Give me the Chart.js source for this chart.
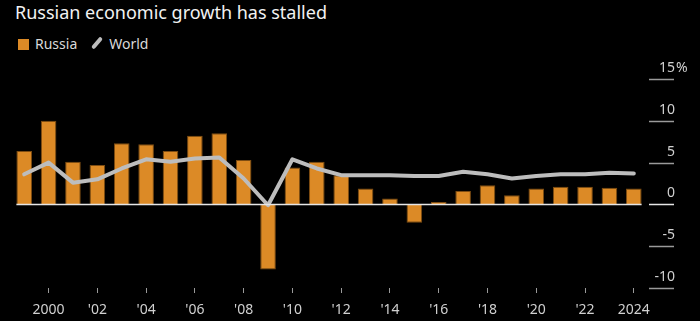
<!DOCTYPE html>
<html>
<head>
<meta charset="utf-8">
<script src="https://cdn.jsdelivr.net/npm/chart.js@4/dist/chart.umd.min.js"></script>
<style>
    body { margin: 0; background: #000; }
    #wrap { position: relative; width: 700px; height: 321px; background: #000; font-family: "Noto Sans", sans-serif; }
    #title { position: absolute; left: 15px; top: 0px; color: #f2f2f2; font-size: 18px; white-space: nowrap; }
    #legend { position: absolute; left: 18px; top: 34px; color: #d9d9d9; font-size: 14px; white-space: nowrap; }
    #legend .sq { display: inline-block; width: 11px; height: 11px; background: #dc8a26; vertical-align: -1px; margin-right: 6px; }
    #legend .ln { display: inline-block; width: 14px; height: 4px; background: #bdbdbd; transform: rotate(-50deg); vertical-align: 4px; margin: 0 5px 0 13px; border-radius: 2px; }
    canvas { position: absolute; left: 0; top: 0; }
</style>
</head>
<body>
<div id="wrap">
    <div id="title">Russian economic growth has stalled</div>
    <div id="legend"><span class="sq"></span>Russia<span class="ln"></span>World</div>
    <canvas id="chart" width="700" height="321"></canvas>
</div>
<script>
// Chart data
const years = [1999, 2000, 2001, 2002, 2003, 2004, 2005, 2006, 2007, 2008, 2009, 2010, 2011, 2012,
               2013, 2014, 2015, 2016, 2017, 2018, 2019, 2020, 2021, 2022, 2023, 2024];
const russia = [6.4, 10.0, 5.1, 4.7, 7.3, 7.2, 6.4, 8.2, 8.5, 5.3, -7.8, 4.4, 5.1, 3.5,
                1.9, 0.7, -2.2, 0.3, 1.6, 2.3, 1.1, 1.9, 2.1, 2.1, 2.0, 1.9];
const world = [3.6, 5.0, 2.6, 3.0, 4.3, 5.4, 5.1, 5.5, 5.6, 3.1, -0.1, 5.4, 4.3, 3.5,
               3.5, 3.5, 3.4, 3.4, 3.9, 3.6, 3.1, 3.4, 3.6, 3.6, 3.8, 3.7];
const yTicks = [-10, -5, 0, 5, 10, 15];

function yearLabel(year) {
    if (year % 2 !== 0) return null;
    if (year === 2000 || year === 2024) return String(year);
    return "'" + String(year).slice(2);
}

// Right-side value axis: short segments with labels above them, plus zero line
const rightAxis = {
    id: 'rightAxis',
    afterDatasetsDraw(chart) {
        const ctx = chart.ctx;
        const y = chart.scales.y;
        ctx.save();
        ctx.font = '14px "Noto Sans", sans-serif';
        ctx.textAlign = 'right';
        ctx.textBaseline = 'alphabetic';
        yTicks.forEach(v => {
            const py = Math.round(y.getPixelForValue(v)) + 0.5;
            ctx.strokeStyle = v === 0 ? '#e6e6e6' : '#9a9a9a';
            ctx.lineWidth = 1.5;
            ctx.beginPath();
            ctx.moveTo(649, py);
            ctx.lineTo(674, py);
            ctx.stroke();
            ctx.fillStyle = '#d0d0d0';
            ctx.fillText(String(v), 675, py - 8);
            if (v === 15) {
                ctx.textAlign = 'left';
                ctx.fillText('%', 676, py - 8);
                ctx.textAlign = 'right';
            }
        });
        // zero line across the bars
        const meta = chart.getDatasetMeta(1);
        const first = meta.data[0];
        const last = meta.data[meta.data.length - 1];
        const zy = Math.round(y.getPixelForValue(0)) + 0.5;
        ctx.strokeStyle = '#e6e6e6';
        ctx.lineWidth = 1.5;
        ctx.beginPath();
        ctx.moveTo(first.x - first.width / 2, zy);
        ctx.lineTo(last.x + last.width / 2, zy);
        ctx.stroke();
        ctx.restore();
    }
};

new Chart(document.getElementById('chart'), {
    type: 'bar',
    data: {
        labels: years,
        datasets: [{
            type: 'line',
            label: 'World',
            data: world,
            borderColor: '#bdbdbd',
            borderWidth: 4,
            pointRadius: 0,
            borderCapStyle: 'round',
            borderJoinStyle: 'round',
            tension: 0,
            order: 0
        }, {
            label: 'Russia',
            data: russia,
            backgroundColor: '#dc8a26',
            borderColor: '#7d4c12',
            borderWidth: 1,
            categoryPercentage: 1,
            barPercentage: 0.64,
            order: 1
        }]
    },
    options: {
        responsive: false,
        animation: false,
        layout: { padding: { left: 12, right: 54, top: 79, bottom: 0 } },
        plugins: {
            legend: { display: false },
            tooltip: { enabled: false }
        },
        scales: {
            x: {
                offset: true,
                border: { display: false },
                afterFit: function(scale) { scale.height = 33; },
                grid: {
                    offset: false,
                    drawOnChartArea: false,
                    drawTicks: true,
                    tickLength: 5,
                    color: '#9a9a9a'
                },
                ticks: {
                    autoSkip: false,
                    maxRotation: 0,
                    padding: 9,
                    color: '#d0d0d0',
                    font: { family: '"Noto Sans", sans-serif', size: 14 },
                    callback: function(val, i) { return yearLabel(years[i]); }
                }
            },
            y: {
                display: false,
                min: -10,
                max: 15
            }
        }
    },
    plugins: [rightAxis]
});
</script>
</body>
</html>
